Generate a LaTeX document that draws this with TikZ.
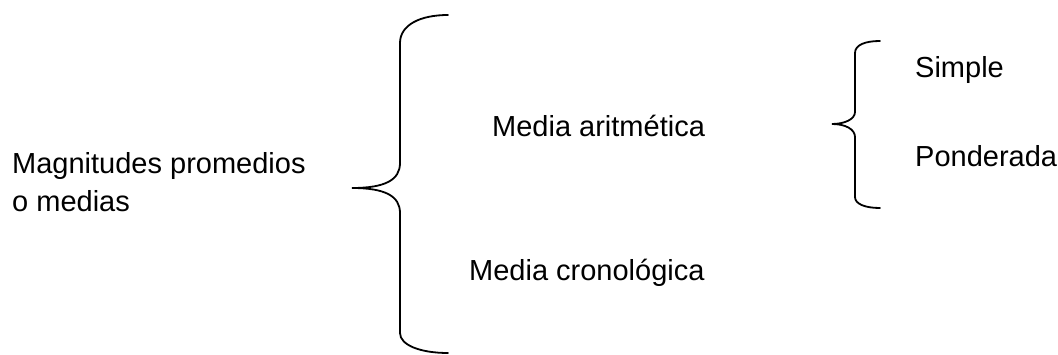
\documentclass[tikz,border=0pt]{standalone}
\usepackage{fontspec}
\setmainfont{Liberation Sans}
\begin{document}
\begin{tikzpicture}[x=1pt, y=-1pt,
    texto/.style={anchor=base west, inner sep=0pt, font=\fontsize{29}{38}\selectfont},
    llave/.style={line width=1.8pt, line cap=round}]
    \useasboundingbox (0,0) rectangle (1058,355);

    % Textos
    \node[texto] (magn) at (12,174) {Magnitudes promedios};
    \node[texto] (omed) at (12,212) {o medias};
    \node[texto] (arit) at (492,137) {Media aritmética};
    \node[texto] (cron) at (469,281) {Media cronológica};
    \node[texto] (simp) at (915,78) {Simple};
    \node[texto] (pond) at (915,167) {Ponderada};

    % Llave grande
    \draw[llave] (448,15) .. controls (420,15) and (400,25) .. (400,43)
        -- (400,163) .. controls (400,180) and (385,188) .. (352,188)
        .. controls (385,188) and (400,196) .. (400,213)
        -- (400,333) .. controls (400,345) and (420,353) .. (448,353);

    % Llave pequena
    \draw[llave] (880,41) .. controls (865,41) and (855,45) .. (855,53)
        -- (855,112) .. controls (855,119) and (845,124) .. (832,124)
        .. controls (845,124) and (855,129) .. (855,137)
        -- (855,197) .. controls (855,204) and (865,208) .. (880,208);
\end{tikzpicture}
\end{document}
